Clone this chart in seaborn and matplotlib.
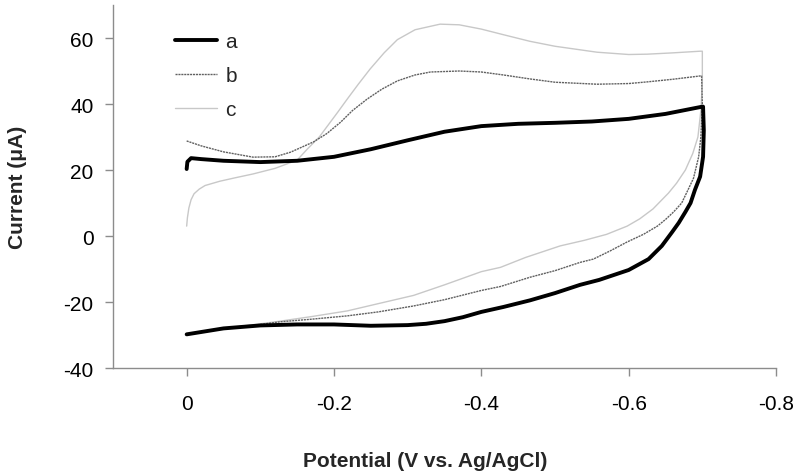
import matplotlib
matplotlib.use("Agg")
import matplotlib.pyplot as plt
import seaborn as sns
import numpy as np

# ---- data ----
# curve a : forward (upper) branch and reverse (lower) branch
a_fwd_v = [0.000, -0.001, -0.006, -0.02, -0.05, -0.10, -0.15, -0.20, -0.25, -0.30, -0.35,
           -0.40, -0.45, -0.50, -0.55, -0.60, -0.65, -0.70]
a_fwd_i = [20.3, 22.5, 23.6, 23.3, 22.8, 22.4, 22.8, 24.0, 26.3, 29.0, 31.6,
           33.3, 34.0, 34.3, 34.7, 35.5, 37.0, 39.2]
a_rev_v = [-0.701, -0.702, -0.701, -0.697, -0.690, -0.684, -0.677, -0.668, -0.659, -0.645,
           -0.627, -0.600, -0.560, -0.534, -0.500, -0.466, -0.430, -0.400, -0.375, -0.350,
           -0.325, -0.300, -0.250, -0.200, -0.150, -0.100, -0.050, 0.000]
a_rev_i = [39.2, 32.0, 24.0, 18.0, 14.0, 10.0, 7.3, 4.0, 1.2, -3.0,
           -7.0, -10.3, -13.3, -14.8, -17.3, -19.5, -21.5, -23.0, -24.6, -25.8,
           -26.6, -27.0, -27.2, -26.8, -26.8, -27.1, -28.0, -29.8]

# curve b
b_fwd_v = [0.000, -0.02, -0.05, -0.09, -0.12, -0.141, -0.172, -0.19, -0.209, -0.225, -0.245,
           -0.265, -0.286, -0.31, -0.331, -0.37, -0.40, -0.43, -0.466, -0.50, -0.557, -0.60,
           -0.625, -0.66, -0.697]
b_fwd_i = [28.8, 27.3, 25.5, 23.9, 24.0, 25.4, 28.5, 31.0, 34.5, 38.0, 41.5,
           44.5, 47.0, 48.8, 49.7, 50.0, 49.7, 48.8, 47.6, 46.6, 46.0, 46.2,
           46.7, 47.5, 48.5]
b_rev_v = [-0.699, -0.700, -0.698, -0.695, -0.688, -0.681, -0.672, -0.661, -0.650, -0.639,
           -0.620, -0.598, -0.575, -0.552, -0.534, -0.500, -0.466, -0.426, -0.400, -0.350,
           -0.308, -0.260, -0.218, -0.170, -0.127, -0.100, -0.050, 0.000]
b_rev_i = [48.5, 40.0, 30.0, 24.0, 17.5, 14.2, 10.0, 7.3, 5.0, 3.0,
           0.5, -1.8, -4.5, -7.0, -8.0, -10.5, -12.5, -15.3, -16.5, -19.3,
           -21.2, -23.0, -24.2, -25.2, -26.0, -26.8, -28.0, -29.8]

# curve c
c_fwd_v = [0.000, -0.001, -0.003, -0.006, -0.010, -0.017, -0.025, -0.045, -0.065, -0.09,
           -0.12, -0.15, -0.164, -0.18, -0.191, -0.205, -0.218, -0.233, -0.249, -0.268,
           -0.286, -0.31, -0.344, -0.37, -0.40, -0.43, -0.466, -0.50, -0.557, -0.60,
           -0.625, -0.66, -0.697]
c_fwd_i = [3.0, 5.5, 8.5, 11.0, 12.8, 14.2, 15.3, 16.6, 17.6, 18.8,
           20.5, 23.0, 26.4, 30.0, 33.3, 37.5, 41.5, 46.0, 50.6, 55.5,
           59.5, 62.5, 64.2, 64.0, 62.7, 61.0, 59.0, 57.5, 55.7, 55.0,
           55.1, 55.5, 56.0]
c_rev_v = [-0.700, -0.700, -0.698, -0.694, -0.687, -0.677, -0.665, -0.654, -0.633, -0.615,
           -0.598, -0.570, -0.540, -0.507, -0.460, -0.426, -0.400, -0.350, -0.308, -0.260,
           -0.218, -0.170, -0.127, -0.100, -0.050, 0.000]
c_rev_i = [56.0, 46.0, 38.0, 30.0, 25.0, 20.0, 16.0, 13.0, 8.2, 5.2,
           3.0, 0.5, -1.3, -3.0, -6.5, -9.5, -10.8, -14.8, -18.0, -20.5,
           -22.7, -24.4, -25.8, -26.6, -28.0, -29.8]

labels = ["a", "b", "c"]
x_ticks = [0, -0.2, -0.4, -0.6, -0.8]
x_ticklabels = ["0", "-0.2", "-0.4", "-0.6", "-0.8"]
y_ticks = [-40, -20, 0, 20, 40, 60]

# ---- style ----
sns.set_theme(style="white")
plt.rcParams['font.family'] = ['Liberation Sans', 'DejaVu Sans']
plt.rcParams['axes.unicode_minus'] = False

fig = plt.figure(figsize=(8, 4.77), dpi=100)
ax = fig.add_axes([0.14125, 0.2264, 0.82875, 0.761])

spine_col = "#8c8c8c"
curves = {
    "c": (c_fwd_v + c_rev_v, c_fwd_i + c_rev_i, "#c8c8c8", 1.0, "-"),
    "b": (b_fwd_v + b_rev_v, b_fwd_i + b_rev_i, "#606060", 1.0, (0, (1.5, 0.6))),
    "a": (a_fwd_v + a_rev_v, a_fwd_i + a_rev_i, "black", 2.8, "-"),
}
for name in ["c", "b", "a"]:
    v, i, col, lw, ls = curves[name]
    sns.lineplot(x=v, y=i, sort=False, estimator=None, ax=ax, color=col,
                 linewidth=lw, linestyle=ls, label=name)

ax.set_xlim(0.1, -0.8)
ax.set_ylim(-40, 70)
ax.set_xticks(x_ticks)
ax.set_xticklabels(x_ticklabels)
ax.set_yticks(y_ticks)

for s in ["top", "right"]:
    ax.spines[s].set_visible(False)
for s in ["left", "bottom"]:
    ax.spines[s].set_color(spine_col)
    ax.spines[s].set_linewidth(1.0)

ax.tick_params(axis="x", direction="out", length=6, width=1, color=spine_col,
               labelsize=15, pad=13, labelcolor="black", bottom=True)
ax.tick_params(axis="y", direction="out", length=6, width=1, color=spine_col,
               labelsize=15, pad=8, labelcolor="black", left=True)

ax.set_xlabel("Potential (V vs. Ag/AgCl)", fontsize=15, fontweight="bold")
ax.set_ylabel("Current (μA)", fontsize=15, fontweight="bold")
ax.xaxis.set_label_coords(0.4706, -0.2287)
ax.yaxis.set_label_coords(-0.1297, 0.5)

handles, labs = ax.get_legend_handles_labels()
order = [labs.index(l) for l in labels]
ax.legend([handles[k] for k in order], [labs[k] for k in order],
          loc="upper left", bbox_to_anchor=(0.094, 0.926), frameon=False,
          fontsize=15, handlelength=2.0, handletextpad=0.4, labelspacing=0.72,
          borderpad=0, borderaxespad=0)

fig.savefig("out.png", dpi=100)
